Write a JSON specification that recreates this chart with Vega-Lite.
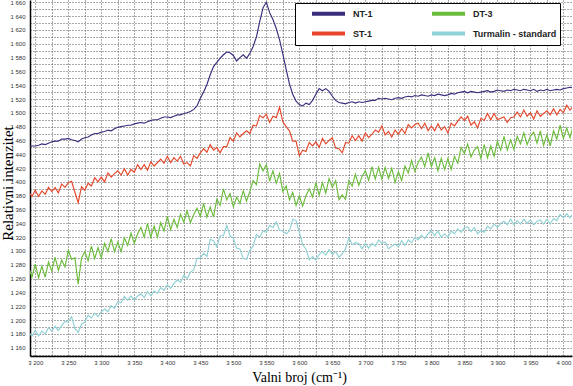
{
"$schema": "https://vega.github.io/schema/vega-lite/v6.json",
"width": 542, "height": 356,
"autosize": {"type": "none"},
"padding": {"left": 30, "top": 0, "right": 1, "bottom": 30},
"background": "white",
"config": {"view": {"stroke": null}},
"data": {"values": [
{"x":3190,"a":1451,"b":1385,"c":1277,"d":1182},
{"x":3195,"a":1452,"b":1379,"c":1262,"d":1177},
{"x":3200,"a":1452,"b":1388,"c":1281,"d":1185},
{"x":3205,"a":1453,"b":1379,"c":1261,"d":1177},
{"x":3210,"a":1455,"b":1387,"c":1278,"d":1184},
{"x":3215,"a":1454,"b":1382,"c":1262,"d":1180},
{"x":3220,"a":1456,"b":1392,"c":1284,"d":1189},
{"x":3225,"a":1458,"b":1386,"c":1271,"d":1184},
{"x":3230,"a":1459,"b":1392,"c":1291,"d":1191},
{"x":3235,"a":1459,"b":1384,"c":1272,"d":1185},
{"x":3240,"a":1462,"b":1397,"c":1287,"d":1192},
{"x":3245,"a":1462,"b":1392,"c":1277,"d":1198},
{"x":3250,"a":1463,"b":1399,"c":1301,"d":1197},
{"x":3255,"a":1461,"b":1401,"c":1288,"d":1205},
{"x":3260,"a":1460,"b":1385,"c":1290,"d":1188},
{"x":3265,"a":1458,"b":1370,"c":1252,"d":1182},
{"x":3270,"a":1462,"b":1393,"c":1290,"d":1194},
{"x":3275,"a":1464,"b":1388,"c":1299,"d":1197},
{"x":3280,"a":1465,"b":1398,"c":1286,"d":1207},
{"x":3285,"a":1468,"b":1394,"c":1307,"d":1203},
{"x":3290,"a":1470,"b":1406,"c":1289,"d":1210},
{"x":3295,"a":1470,"b":1400,"c":1305,"d":1205},
{"x":3300,"a":1472,"b":1407,"c":1290,"d":1212},
{"x":3305,"a":1473,"b":1400,"c":1311,"d":1216},
{"x":3310,"a":1475,"b":1413,"c":1299,"d":1212},
{"x":3315,"a":1474,"b":1407,"c":1318,"d":1221},
{"x":3320,"a":1477,"b":1412,"c":1299,"d":1217},
{"x":3325,"a":1479,"b":1416,"c":1313,"d":1227},
{"x":3330,"a":1480,"b":1410,"c":1299,"d":1225},
{"x":3335,"a":1481,"b":1419,"c":1319,"d":1234},
{"x":3340,"a":1482,"b":1410,"c":1308,"d":1229},
{"x":3345,"a":1482,"b":1418,"c":1326,"d":1235},
{"x":3350,"a":1484,"b":1414,"c":1311,"d":1229},
{"x":3355,"a":1485,"b":1425,"c":1325,"d":1235},
{"x":3360,"a":1486,"b":1418,"c":1334,"d":1238},
{"x":3365,"a":1485,"b":1425,"c":1320,"d":1233},
{"x":3370,"a":1487,"b":1417,"c":1340,"d":1241},
{"x":3375,"a":1489,"b":1429,"c":1320,"d":1235},
{"x":3380,"a":1490,"b":1423,"c":1336,"d":1242},
{"x":3385,"a":1490,"b":1428,"c":1320,"d":1239},
{"x":3390,"a":1492,"b":1433,"c":1341,"d":1247},
{"x":3395,"a":1494,"b":1427,"c":1329,"d":1243},
{"x":3400,"a":1494,"b":1437,"c":1350,"d":1251},
{"x":3405,"a":1493,"b":1428,"c":1331,"d":1246},
{"x":3410,"a":1495,"b":1435,"c":1346,"d":1253},
{"x":3415,"a":1497,"b":1430,"c":1334,"d":1258},
{"x":3420,"a":1497,"b":1437,"c":1353,"d":1255},
{"x":3425,"a":1499,"b":1426,"c":1342,"d":1265},
{"x":3430,"a":1500,"b":1428,"c":1358,"d":1260},
{"x":3435,"a":1502,"b":1423,"c":1341,"d":1269},
{"x":3440,"a":1505,"b":1438,"c":1353,"d":1273},
{"x":3445,"a":1510,"b":1434,"c":1362,"d":1289},
{"x":3450,"a":1521,"b":1442,"c":1350,"d":1290},
{"x":3455,"a":1530,"b":1448,"c":1369,"d":1297},
{"x":3460,"a":1541,"b":1443,"c":1349,"d":1292},
{"x":3465,"a":1555,"b":1454,"c":1364,"d":1317},
{"x":3470,"a":1567,"b":1446,"c":1349,"d":1315},
{"x":3475,"a":1573,"b":1450,"c":1375,"d":1306},
{"x":3480,"a":1579,"b":1442,"c":1366,"d":1322},
{"x":3485,"a":1584,"b":1451,"c":1390,"d":1322},
{"x":3490,"a":1588,"b":1451,"c":1374,"d":1337},
{"x":3495,"a":1587,"b":1464,"c":1383,"d":1322},
{"x":3500,"a":1583,"b":1459,"c":1364,"d":1319},
{"x":3505,"a":1575,"b":1471,"c":1378,"d":1304},
{"x":3510,"a":1580,"b":1465,"c":1369,"d":1303},
{"x":3515,"a":1584,"b":1470,"c":1387,"d":1289},
{"x":3520,"a":1579,"b":1474,"c":1372,"d":1288},
{"x":3525,"a":1586,"b":1470,"c":1386,"d":1301},
{"x":3530,"a":1596,"b":1482,"c":1402,"d":1307},
{"x":3535,"a":1610,"b":1481,"c":1396,"d":1324},
{"x":3540,"a":1632,"b":1496,"c":1426,"d":1320},
{"x":3545,"a":1652,"b":1493,"c":1416,"d":1329},
{"x":3550,"a":1660,"b":1498,"c":1425,"d":1327},
{"x":3555,"a":1645,"b":1486,"c":1401,"d":1337},
{"x":3560,"a":1635,"b":1495,"c":1416,"d":1334},
{"x":3565,"a":1622,"b":1493,"c":1398,"d":1342},
{"x":3570,"a":1606,"b":1508,"c":1412,"d":1330},
{"x":3575,"a":1585,"b":1487,"c":1386,"d":1329},
{"x":3580,"a":1563,"b":1480,"c":1394,"d":1325},
{"x":3585,"a":1542,"b":1474,"c":1374,"d":1329},
{"x":3590,"a":1527,"b":1459,"c":1385,"d":1346},
{"x":3595,"a":1517,"b":1459,"c":1366,"d":1344},
{"x":3600,"a":1512,"b":1438,"c":1380,"d":1327},
{"x":3605,"a":1510,"b":1446,"c":1365,"d":1309},
{"x":3610,"a":1514,"b":1444,"c":1380,"d":1303},
{"x":3615,"a":1512,"b":1457,"c":1390,"d":1287},
{"x":3620,"a":1518,"b":1452,"c":1378,"d":1292},
{"x":3625,"a":1527,"b":1458,"c":1399,"d":1287},
{"x":3630,"a":1535,"b":1450,"c":1381,"d":1295},
{"x":3635,"a":1532,"b":1463,"c":1399,"d":1299},
{"x":3640,"a":1535,"b":1455,"c":1384,"d":1294},
{"x":3645,"a":1531,"b":1460,"c":1405,"d":1302},
{"x":3650,"a":1524,"b":1464,"c":1392,"d":1295},
{"x":3655,"a":1518,"b":1449,"c":1402,"d":1299},
{"x":3660,"a":1515,"b":1448,"c":1374,"d":1291},
{"x":3665,"a":1514,"b":1442,"c":1381,"d":1296},
{"x":3670,"a":1513,"b":1457,"c":1375,"d":1303},
{"x":3675,"a":1515,"b":1456,"c":1402,"d":1319},
{"x":3680,"a":1516,"b":1467,"c":1394,"d":1309},
{"x":3685,"a":1514,"b":1460,"c":1411,"d":1312},
{"x":3690,"a":1516,"b":1467,"c":1395,"d":1311},
{"x":3695,"a":1515,"b":1459,"c":1408,"d":1303},
{"x":3700,"a":1516,"b":1471,"c":1416,"d":1311},
{"x":3705,"a":1517,"b":1464,"c":1402,"d":1304},
{"x":3710,"a":1518,"b":1469,"c":1422,"d":1311},
{"x":3715,"a":1518,"b":1475,"c":1404,"d":1307},
{"x":3720,"a":1521,"b":1472,"c":1421,"d":1316},
{"x":3725,"a":1520,"b":1481,"c":1404,"d":1311},
{"x":3730,"a":1521,"b":1468,"c":1421,"d":1313},
{"x":3735,"a":1520,"b":1473,"c":1405,"d":1303},
{"x":3740,"a":1519,"b":1465,"c":1420,"d":1307},
{"x":3745,"a":1521,"b":1475,"c":1399,"d":1310},
{"x":3750,"a":1522,"b":1469,"c":1415,"d":1306},
{"x":3755,"a":1521,"b":1477,"c":1402,"d":1315},
{"x":3760,"a":1523,"b":1470,"c":1423,"d":1308},
{"x":3765,"a":1524,"b":1483,"c":1413,"d":1316},
{"x":3770,"a":1523,"b":1478,"c":1431,"d":1312},
{"x":3775,"a":1525,"b":1483,"c":1415,"d":1320},
{"x":3780,"a":1524,"b":1485,"c":1428,"d":1316},
{"x":3785,"a":1526,"b":1477,"c":1436,"d":1323},
{"x":3790,"a":1525,"b":1485,"c":1422,"d":1318},
{"x":3795,"a":1524,"b":1474,"c":1442,"d":1325},
{"x":3800,"a":1526,"b":1481,"c":1422,"d":1329},
{"x":3805,"a":1525,"b":1474,"c":1435,"d":1322},
{"x":3810,"a":1527,"b":1484,"c":1416,"d":1329},
{"x":3815,"a":1526,"b":1475,"c":1434,"d":1320},
{"x":3820,"a":1525,"b":1480,"c":1418,"d":1325},
{"x":3825,"a":1526,"b":1471,"c":1434,"d":1320},
{"x":3830,"a":1528,"b":1485,"c":1418,"d":1329},
{"x":3835,"a":1527,"b":1481,"c":1437,"d":1325},
{"x":3840,"a":1529,"b":1488,"c":1427,"d":1332},
{"x":3845,"a":1530,"b":1494,"c":1450,"d":1327},
{"x":3850,"a":1531,"b":1489,"c":1441,"d":1334},
{"x":3855,"a":1529,"b":1495,"c":1455,"d":1335},
{"x":3860,"a":1531,"b":1482,"c":1436,"d":1328},
{"x":3865,"a":1530,"b":1487,"c":1446,"d":1334},
{"x":3870,"a":1529,"b":1478,"c":1451,"d":1325},
{"x":3875,"a":1530,"b":1492,"c":1434,"d":1330},
{"x":3880,"a":1531,"b":1489,"c":1454,"d":1327},
{"x":3885,"a":1532,"b":1499,"c":1435,"d":1336},
{"x":3890,"a":1530,"b":1490,"c":1452,"d":1332},
{"x":3895,"a":1531,"b":1499,"c":1437,"d":1339},
{"x":3900,"a":1533,"b":1490,"c":1459,"d":1334},
{"x":3905,"a":1532,"b":1492,"c":1446,"d":1340},
{"x":3910,"a":1531,"b":1494,"c":1466,"d":1343},
{"x":3915,"a":1533,"b":1486,"c":1446,"d":1338},
{"x":3920,"a":1532,"b":1493,"c":1461,"d":1346},
{"x":3925,"a":1534,"b":1494,"c":1447,"d":1338},
{"x":3930,"a":1533,"b":1501,"c":1466,"d":1344},
{"x":3935,"a":1532,"b":1494,"c":1455,"d":1339},
{"x":3940,"a":1534,"b":1504,"c":1471,"d":1346},
{"x":3945,"a":1533,"b":1495,"c":1454,"d":1340},
{"x":3950,"a":1532,"b":1500,"c":1466,"d":1345},
{"x":3955,"a":1534,"b":1491,"c":1472,"d":1338},
{"x":3960,"a":1531,"b":1503,"c":1456,"d":1343},
{"x":3965,"a":1533,"b":1495,"c":1474,"d":1345},
{"x":3970,"a":1532,"b":1499,"c":1453,"d":1339},
{"x":3975,"a":1534,"b":1503,"c":1468,"d":1346},
{"x":3980,"a":1532,"b":1497,"c":1452,"d":1339},
{"x":3985,"a":1533,"b":1506,"c":1474,"d":1347},
{"x":3990,"a":1534,"b":1497,"c":1462,"d":1344},
{"x":3995,"a":1533,"b":1505,"c":1482,"d":1353},
{"x":4000,"a":1535,"b":1500,"c":1463,"d":1348},
{"x":4005,"a":1536,"b":1511,"c":1478,"d":1354},
{"x":4010,"a":1537,"b":1504,"c":1464,"d":1348},
{"x":4015,"a":1536,"b":1510,"c":1483,"d":1355}
]},
"transform": [{"fold": ["a","b","c","d"], "as": ["s","v"]}],
"mark": {"type": "line", "clip": true, "strokeWidth": 1.15},
"encoding": {
 "x": {"field": "x", "type": "quantitative",
  "scale": {"domain": [3192, 4013], "nice": false, "zero": false},
  "axis": {"values": [3200,3225,3250,3275,3300,3325,3350,3375,3400,3425,3450,3475,3500,3525,3550,3575,3600,3625,3650,3675,3700,3725,3750,3775,3800,3825,3850,3875,3900,3925,3950,3975,4000],
   "labelExpr": "datum.value % 50 === 0 ? slice(toString(datum.value),0,1) + ' ' + slice(toString(datum.value),1) : ''",
   "labelOverlap": false, "ticks": false, "labelPadding": 3, "labelFontSize": 6, "labelColor": "#333", "labelFont": "Liberation Sans",
   "domainColor": "#000", "domainWidth": 1.5,
   "grid": true, "gridColor": "#555", "gridDash": [1,2], "gridWidth": 1,
   "title": "Valni broj (cm⁻¹)", "titleFont": "Liberation Serif", "titleFontSize": 14, "titleFontWeight": "normal", "titleColor": "#000",
   "titleX": 269, "titleY": 25, "titleBaseline": "alphabetic", "titleAlign": "center"}},
 "y": {"field": "v", "type": "quantitative",
  "scale": {"domain": [1148, 1663.3], "nice": false, "zero": false},
  "axis": {"values": [1150,1160,1170,1180,1190,1200,1210,1220,1230,1240,1250,1260,1270,1280,1290,1300,1310,1320,1330,1340,1350,1360,1370,1380,1390,1400,1410,1420,1430,1440,1450,1460,1470,1480,1490,1500,1510,1520,1530,1540,1550,1560,1570,1580,1590,1600,1610,1620,1630,1640,1650,1660],
   "labelExpr": "datum.value % 20 === 0 ? slice(toString(datum.value),0,1) + ' ' + slice(toString(datum.value),1) : ''",
   "labelOverlap": false, "ticks": false, "labelPadding": 5, "labelFontSize": 6, "labelColor": "#333", "labelFont": "Liberation Sans",
   "domainColor": "#000", "domainWidth": 1.5,
   "grid": true, "gridColor": "#555", "gridDash": [1,2], "gridWidth": 1,
   "title": "Relativni intenzitet", "titleFont": "Liberation Serif", "titleFontSize": 15, "titleFontWeight": "normal", "titleColor": "#000",
   "titleX": -18, "titleY": 183, "titleBaseline": "alphabetic", "titleAlign": "center", "titleAngle": -90}},
 "color": {"field": "s", "type": "nominal",
  "scale": {"domain": ["a","b","c","d"], "range": ["#3c2d7c","#e6472b","#6cbc3c","#90d1d5"]},
  "legend": {"orient": "none", "legendX": 265, "legendY": 3, "columns": 2, "title": null,
   "labelExpr": "datum.label == 'a' ? 'NT-1' : datum.label == 'b' ? 'ST-1' : datum.label == 'c' ? 'DT-3' : 'Turmalin - standard'",
   "symbolType": "M-5,0H1", "symbolSize": 121, "symbolStrokeWidth": 4, "symbolOffset": 34, "labelOffset": 6,
   "labelFont": "Liberation Sans", "labelFontWeight": "bold", "labelFontSize": 9, "labelColor": "#222",
   "columnPadding": 45, "rowPadding": 3, "padding": 3,
   "strokeColor": "#000", "fillColor": "#fff", "cornerRadius": 0}}
}
}
